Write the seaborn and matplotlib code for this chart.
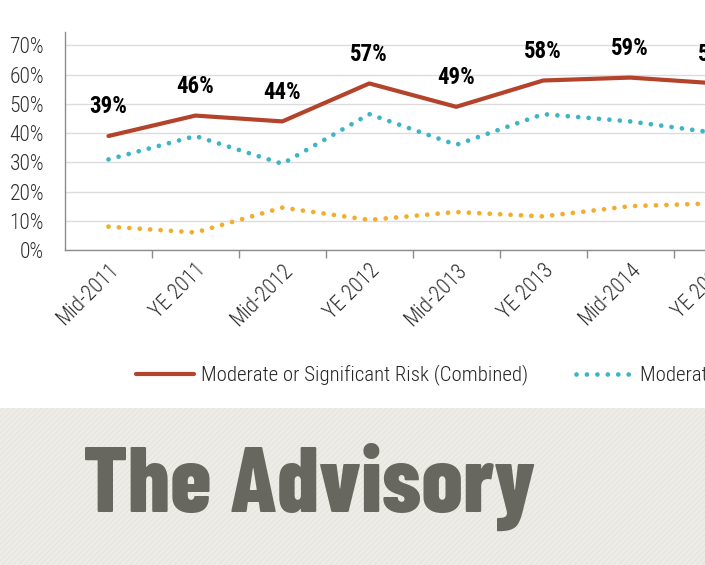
import numpy as np
import pandas as pd
import seaborn as sns
import matplotlib.pyplot as plt
from matplotlib.patches import Rectangle

periods = ["Mid-2011", "YE 2011", "Mid-2012", "YE 2012", "Mid-2013",
           "YE 2013", "Mid-2014", "YE 2014"]
combined = [39, 46, 44, 57, 49, 58, 59, 57]
moderate = [31, 39, 29.5, 46.5, 36, 46.5, 44, 40]
significant = [8, 6, 14.5, 10.3, 13, 11.5, 15, 16]
yticks = [0, 10, 20, 30, 40, 50, 60, 70]

sns.set_style("white")
plt.rcParams['font.family'] = ['Roboto Condensed', 'DejaVu Sans']
plt.rcParams['hatch.linewidth'] = 0.6

fig = plt.figure(figsize=(7.05, 5.65), dpi=100)

# textured banner at the bottom
fig.patches.append(Rectangle((0, 0), 1, 157 / 565, transform=fig.transFigure,
                             facecolor="#edece7", edgecolor="#e4e2dc",
                             hatch="//////", linewidth=0, zorder=0))
banner = fig.text(83 / 705, (565 - 512) / 565, "The Advisory", fontsize=60,
                  family=["Barlow Condensed", "Roboto Condensed"],
                  fontweight=800, color="#67675f", ha="left", va="baseline")
# fit the banner title to its width in the reference
r = fig.canvas.get_renderer()
w = banner.get_window_extent(r).width
banner.set_fontsize(60 * 452 / w)

ax = fig.add_axes([65 / 705, (565 - 250) / 565, (760.5 - 65) / 705, 218 / 565])
idx = np.arange(len(periods))
df = pd.DataFrame({"x": idx, "c": combined, "m": moderate, "s": significant})

sns.lineplot(data=df, x="x", y="c", ax=ax, color="#b4432b", linewidth=3,
             label="Moderate or Significant Risk (Combined)")
sns.lineplot(data=df, x="x", y="m", ax=ax, color="#3db5c2", linewidth=3.4,
             linestyle=(0, (0.01, 2.2)), dash_capstyle="round",
             label="Moderate Risk")
sns.lineplot(data=df, x="x", y="s", ax=ax, color="#f2ad2c", linewidth=3.4,
             linestyle=(0, (0.01, 2.2)), dash_capstyle="round",
             label="Significant Risk")

for i, v in enumerate(combined):
    ax.annotate(f"{v}%", (i, v), xytext=(0, 21), textcoords="offset points",
                ha="center", va="center", fontsize=16.5, fontweight="bold",
                color="black")

ax.set_xlim(-0.5, 7.5)
ax.set_ylim(0, 74.6)
ax.set_yticks(yticks)
ax.set_yticklabels([f"{t}%" for t in yticks], fontsize=15.5, color="#2e2e2e",
                   fontweight="light")
ax.yaxis.grid(True, color="#dcdcdc", linewidth=1)
ax.set_axisbelow(True)
ax.set_xticks(idx)
ax.set_xticklabels(periods, rotation=45, ha="right", rotation_mode="anchor",
                   fontsize=15.5, color="#2e2e2e", fontweight="light")
ax.set_xticks(idx[:-1] + 0.5, minor=True)
ax.tick_params(axis="x", which="major", length=0, pad=7)
ax.tick_params(axis="x", which="minor", length=6, color="#8c8c8c", width=1,
               direction="out", bottom=True)
ax.tick_params(axis="y", length=0, pad=15)
for side in ["top", "right"]:
    ax.spines[side].set_visible(False)
for side in ["left", "bottom"]:
    ax.spines[side].set_color("#8c8c8c")
    ax.spines[side].set_linewidth(1)
ax.set_xlabel("")
ax.set_ylabel("")

leg = ax.legend(loc="center left", bbox_to_anchor=(136 / 705, (565 - 375) / 565),
                bbox_transform=fig.transFigure, ncol=3, frameon=False,
                prop={"size": 15, "weight": "light"},
                handlelength=2.8, handletextpad=0.3, columnspacing=2.3,
                borderaxespad=0, borderpad=0)
for t in leg.get_texts():
    t.set_color("#262626")

fig.savefig("out.png", dpi=100)
